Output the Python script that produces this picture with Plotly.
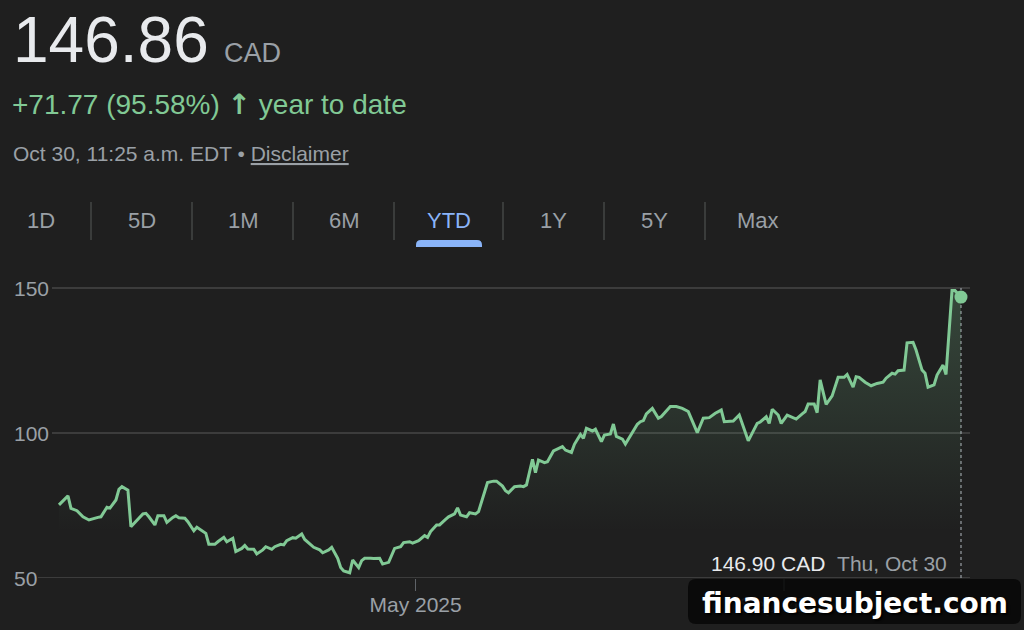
import plotly.graph_objects as go
import pandas as pd

# ---------------- data ----------------
dates = [
    "2025-01-02", "2025-01-05", "2025-01-06", "2025-01-08", "2025-01-10", "2025-01-12", "2025-01-15", "2025-01-16", "2025-01-18", "2025-01-19",
    "2025-01-21", "2025-01-22", "2025-01-23", "2025-01-25", "2025-01-26", "2025-01-28", "2025-01-30", "2025-01-31", "2025-02-01", "2025-02-03",
    "2025-02-04", "2025-02-06", "2025-02-07", "2025-02-09", "2025-02-10", "2025-02-11", "2025-02-13", "2025-02-14", "2025-02-16", "2025-02-17",
    "2025-02-19", "2025-02-20", "2025-02-21", "2025-02-23", "2025-02-24", "2025-02-26", "2025-02-27", "2025-03-01", "2025-03-02", "2025-03-04",
    "2025-03-05", "2025-03-06", "2025-03-08", "2025-03-09", "2025-03-11", "2025-03-12", "2025-03-14", "2025-03-15", "2025-03-17", "2025-03-18",
    "2025-03-19", "2025-03-21", "2025-03-22", "2025-03-24", "2025-03-25", "2025-03-27", "2025-03-28", "2025-03-30", "2025-03-31", "2025-04-02",
    "2025-04-03", "2025-04-05", "2025-04-06", "2025-04-07", "2025-04-09", "2025-04-10", "2025-04-12", "2025-04-13", "2025-04-14", "2025-04-16",
    "2025-04-17", "2025-04-19", "2025-04-20", "2025-04-22", "2025-04-23", "2025-04-24", "2025-04-26", "2025-04-27", "2025-04-29", "2025-04-30",
    "2025-05-02", "2025-05-04", "2025-05-05", "2025-05-06", "2025-05-08", "2025-05-09", "2025-05-11", "2025-05-12", "2025-05-14", "2025-05-15",
    "2025-05-16", "2025-05-18", "2025-05-19", "2025-05-21", "2025-05-22", "2025-05-24", "2025-05-25", "2025-05-27", "2025-05-28", "2025-05-30",
    "2025-05-31", "2025-06-01", "2025-06-03", "2025-06-05", "2025-06-06", "2025-06-07", "2025-06-09", "2025-06-10", "2025-06-11", "2025-06-13",
    "2025-06-14", "2025-06-16", "2025-06-19", "2025-06-20", "2025-06-22", "2025-06-23", "2025-06-25", "2025-06-26", "2025-06-27", "2025-06-29",
    "2025-06-30", "2025-07-02", "2025-07-03", "2025-07-05", "2025-07-06", "2025-07-07", "2025-07-09", "2025-07-10", "2025-07-12", "2025-07-14",
    "2025-07-15", "2025-07-16", "2025-07-17", "2025-07-19", "2025-07-21", "2025-07-22", "2025-07-25", "2025-07-27", "2025-07-29", "2025-07-31",
    "2025-08-03", "2025-08-05", "2025-08-07", "2025-08-09", "2025-08-11", "2025-08-12", "2025-08-15", "2025-08-17", "2025-08-20", "2025-08-23",
    "2025-08-24", "2025-08-26", "2025-08-27", "2025-08-28", "2025-08-30", "2025-08-31", "2025-09-02", "2025-09-04", "2025-09-05", "2025-09-07",
    "2025-09-08", "2025-09-09", "2025-09-11", "2025-09-12", "2025-09-13", "2025-09-15", "2025-09-17", "2025-09-19", "2025-09-21", "2025-09-22",
    "2025-09-24", "2025-09-25", "2025-09-26", "2025-09-28", "2025-09-30", "2025-10-02", "2025-10-04", "2025-10-05", "2025-10-07", "2025-10-08",
    "2025-10-09", "2025-10-11", "2025-10-12", "2025-10-14", "2025-10-15", "2025-10-17", "2025-10-18", "2025-10-19", "2025-10-21", "2025-10-22",
    "2025-10-24", "2025-10-25", "2025-10-27", "2025-10-28", "2025-10-30",
]

prices = [
    75.2, 78.3, 74.0, 73.2, 71.1, 70.0, 70.9, 71.1, 74.4, 74.1,
    76.9, 80.6, 81.5, 80.3, 67.7, 70.0, 72.1, 72.3, 71.1, 68.3,
    71.5, 71.5, 69.2, 70.9, 71.5, 70.8, 70.6, 69.4, 66.3, 67.5,
    66.0, 65.4, 61.6, 61.6, 62.5, 64.0, 62.5, 63.7, 59.1, 60.2,
    61.2, 60.0, 59.9, 58.3, 59.7, 60.8, 59.9, 60.8, 61.6, 61.4,
    62.9, 63.9, 63.7, 65.2, 63.3, 61.4, 60.6, 59.7, 58.7, 59.7,
    60.6, 56.8, 53.6, 52.4, 51.8, 56.2, 53.6, 56.0, 56.8, 56.8,
    56.7, 56.8, 54.8, 55.4, 57.9, 60.2, 60.8, 62.2, 62.5, 62.0,
    62.9, 64.6, 64.0, 66.0, 68.3, 68.3, 70.2, 71.1, 72.1, 74.2,
    71.7, 71.1, 72.5, 72.1, 72.9, 79.8, 82.9, 83.4, 83.4, 81.7,
    80.1, 79.4, 81.5, 81.7, 81.5, 82.1, 90.9, 86.3, 90.7, 89.8,
    90.1, 93.8, 95.3, 94.1, 93.3, 96.1, 99.5, 98.2, 101.6, 100.7,
    101.3, 97.0, 99.3, 99.7, 103.1, 98.8, 97.9, 96.2, 99.7, 103.0,
    103.9, 104.3, 106.6, 108.5, 105.1, 105.7, 109.1, 109.1, 108.5, 107.4,
    100.1, 105.1, 105.3, 106.8, 107.9, 103.9, 104.1, 106.2, 97.3, 103.3,
    103.8, 105.6, 103.3, 108.2, 106.2, 103.3, 106.2, 105.1, 104.8, 106.6,
    107.4, 110.0, 110.0, 107.0, 118.3, 109.9, 112.8, 119.2, 119.2, 120.2,
    115.8, 119.4, 119.2, 117.5, 116.3, 117.1, 117.5, 118.9, 120.6, 120.3,
    121.5, 121.7, 131.1, 131.3, 128.6, 121.7, 120.6, 115.8, 116.6, 120.0,
    123.4, 120.2, 149.1, 149.1, 146.86,
]

y_ticks = [150, 100, 50]
x_tick_dates = ["2025-05-01", "2025-09-01"]
x_tick_labels = ["May 2025", "Sep 2025"]
tabs = ["1D", "5D", "1M", "6M", "YTD", "1Y", "5Y", "Max"]
active_tab = "YTD"

price_text = "146.86"
currency = "CAD"
change_text = "+71.77 (95.58%)"
period_text = "year to date"
timestamp_text = "Oct 30, 11:25 a.m. EDT"
disclaimer_text = "Disclaimer"
hover_price = "146.90 CAD"
hover_date = "Thu, Oct 30"
watermark = "financesubject.com"

# ---------------- layout helpers ----------------
W, H = 1024, 630
PT, PB = 270, 578           # plot area top / bottom in pixels
Y_LO = 50
PX_PER_UNIT = 2.9
Y_HI = Y_LO + (PB - PT) / PX_PER_UNIT

d0 = pd.Timestamp(dates[0])
d1 = pd.Timestamp(dates[-1])
x_first_px, x_last_px = 59, 961
px_per_day = (x_last_px - x_first_px) / (d1 - d0).days
x_lo = d0 - pd.Timedelta(days=x_first_px / px_per_day)
x_hi = d1 + pd.Timedelta(days=(W - x_last_px) / px_per_day)


def px(x):
    return x / W


def py(y):
    return (PB - y) / (PB - PT)


BG = "#1f1f1f"
GREEN = "#81c995"
GRAY = "#9aa0a6"
WHITE = "#e8eaed"
BLUE = "#8ab4f8"
GRID = "#474747"
FONT = "Liberation Sans, Arial, sans-serif"

fig = go.Figure()

fig.add_trace(go.Scatter(
    x=dates, y=prices, mode="lines",
    line=dict(color=GREEN, width=3),
    fill="tozeroy",
    fillgradient=dict(
        type="vertical", start=66, stop=150,
        colorscale=[[0, "rgba(129,201,149,0.0)"], [1, "rgba(129,201,149,0.24)"]],
    ),
    hoverinfo="skip", showlegend=False,
))
fig.add_trace(go.Scatter(
    x=[dates[-1]], y=[prices[-1]], mode="markers",
    marker=dict(color=GREEN, size=13),
    hoverinfo="skip", showlegend=False,
))

shapes = []
annotations = []

# y gridlines + labels
label_end_px = {150: 52, 100: 52, 50: 38}
for v in y_ticks:
    shapes.append(dict(type="line", xref="paper", yref="y", x0=px(label_end_px[v]), x1=px(970),
                       y0=v, y1=v, line=dict(color=GRID, width=1.5), layer="below"))
    annotations.append(dict(xref="paper", yref="y", x=px(12), y=v, xanchor="left", yanchor="middle",
                            text=str(v), showarrow=False, font=dict(family=FONT, size=21, color=GRAY)))

# dashed vertical line at last point
shapes.append(dict(type="line", xref="x", yref="y", x0=dates[-1], x1=dates[-1], y0=Y_LO, y1=150,
                   line=dict(color=GRAY, width=1.2, dash="3px,3px"), layer="below"))

# header
annotations.append(dict(xref="paper", yref="paper", x=px(11), y=py(40), xanchor="left", yanchor="middle",
                        text=price_text, showarrow=False, font=dict(family=FONT, size=64, color=WHITE)))
annotations.append(dict(xref="paper", yref="paper", x=px(222), y=py(53), xanchor="left", yanchor="middle",
                        text=currency, showarrow=False, font=dict(family=FONT, size=27, color=GRAY)))
annotations.append(dict(xref="paper", yref="paper", x=px(10), y=py(105), xanchor="left", yanchor="middle",
                        text=(f"{change_text} <span style='font-family:DejaVu Sans'><b>↑</b></span> "
                              f"{period_text}"),
                        showarrow=False, font=dict(family=FONT, size=28, color=GREEN)))
annotations.append(dict(xref="paper", yref="paper", x=px(11), y=py(153), xanchor="left", yanchor="middle",
                        text=f"{timestamp_text} • <u>{disclaimer_text}</u>", showarrow=False,
                        font=dict(family=FONT, size=21, color=GRAY)))

# tabs
tab_centers = [41, 142, 243, 344, 449, 553, 654, 758]
sep_x = [91, 192, 293, 394, 503, 604, 705]
for t, cx in zip(tabs, tab_centers):
    annotations.append(dict(xref="paper", yref="paper", x=px(cx), y=py(221), xanchor="center", yanchor="middle",
                            text=t, showarrow=False,
                            font=dict(family=FONT, size=22, color=BLUE if t == active_tab else GRAY)))
for sx in sep_x:
    shapes.append(dict(type="line", xref="paper", yref="paper", x0=px(sx), x1=px(sx), y0=py(202), y1=py(240),
                       line=dict(color="#444746", width=1.5)))


def rounded_path(x0, y0, x1, y1, r, top_only=False):
    # pixel coords; y0 top, y1 bottom
    P = lambda x, y: f"{px(x):.5f},{py(y):.5f}"
    if top_only:
        return (f"M {P(x0, y1)} L {P(x0, y0 + r)} Q {P(x0, y0)} {P(x0 + r, y0)} "
                f"L {P(x1 - r, y0)} Q {P(x1, y0)} {P(x1, y0 + r)} L {P(x1, y1)} Z")
    return (f"M {P(x0 + r, y0)} L {P(x1 - r, y0)} Q {P(x1, y0)} {P(x1, y0 + r)} "
            f"L {P(x1, y1 - r)} Q {P(x1, y1)} {P(x1 - r, y1)} L {P(x0 + r, y1)} "
            f"Q {P(x0, y1)} {P(x0, y1 - r)} L {P(x0, y0 + r)} Q {P(x0, y0)} {P(x0 + r, y0)} Z")


active_idx = tabs.index(active_tab)
acx = tab_centers[active_idx]
shapes.append(dict(type="path", xref="paper", yref="paper",
                   path=rounded_path(acx - 33, 240, acx + 33, 247, 5, top_only=True),
                   fillcolor=BLUE, line=dict(width=0)))

# hover-style label
annotations.append(dict(xref="paper", yref="paper", x=px(949), y=py(563), xanchor="right", yanchor="middle",
                        text=f"<span style='color:{WHITE}'>{hover_price}</span>\u00a0\u00a0"
                             f"<span style='color:{GRAY}'>{hover_date}</span>",
                        showarrow=False, font=dict(family=FONT, size=21, color=GRAY)))

# watermark
shapes.append(dict(type="path", xref="paper", yref="paper",
                   path=rounded_path(688, 579, 1021, 624, 8),
                   fillcolor="rgba(8,8,8,0.9)", line=dict(width=0), layer="above"))
annotations.append(dict(xref="paper", yref="paper", x=px(855), y=py(603), xanchor="center", yanchor="middle",
                        text=f"<b>{watermark}</b>", showarrow=False,
                        font=dict(family="DejaVu Sans, sans-serif", size=28, color="#ffffff",
                                  shadow="2px 2px 2px #000000")))

fig.update_layout(
    width=W, height=H, autosize=False,
    paper_bgcolor=BG, plot_bgcolor=BG,
    margin=dict(l=0, r=0, t=PT, b=H - PB, pad=0),
    xaxis=dict(type="date", range=[x_lo, x_hi], showgrid=False, zeroline=False, showline=False,
               tickmode="array", tickvals=x_tick_dates, ticktext=x_tick_labels,
               ticks="outside", ticklen=12, tickwidth=1.5, tickcolor="#5f6368",
               ticklabelstandoff=-4,
               tickfont=dict(family=FONT, size=21, color=GRAY), fixedrange=True),
    yaxis=dict(range=[Y_LO, Y_HI], visible=False, fixedrange=True),
    shapes=shapes, annotations=annotations,
    hovermode=False, showlegend=False,
)

fig.write_html("out.html", config={"displayModeBar": False, "staticPlot": True})
